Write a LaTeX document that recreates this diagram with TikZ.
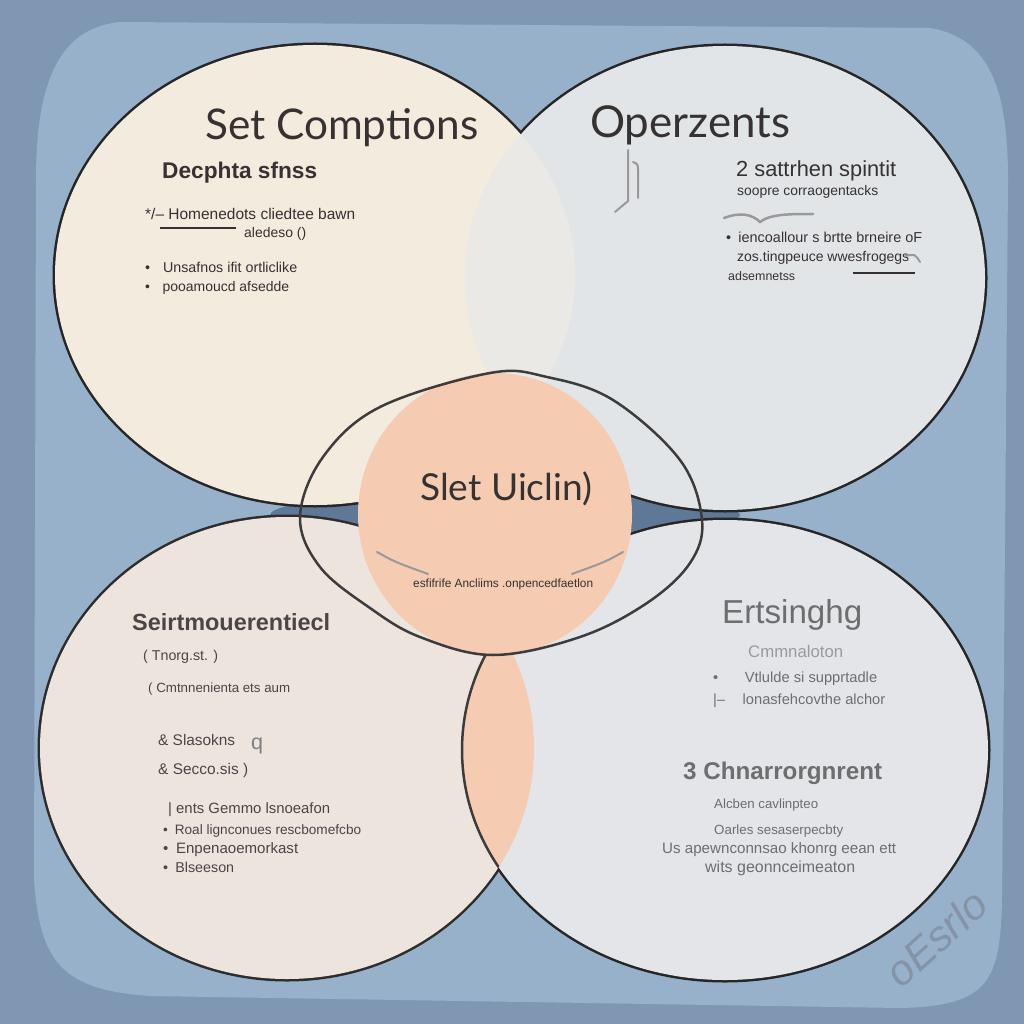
\documentclass[tikz,border=0pt]{standalone}
\usepackage{fontspec}
\setmainfont{Liberation Sans}
\newfontfamily\titlefont{Lato}
\usepackage{graphicx}
\definecolor{bgdark}{HTML}{7F97B3}
\definecolor{panel}{HTML}{97B1CB}
\definecolor{gapdark}{HTML}{5F7898}
\definecolor{tlfill}{HTML}{F4EBDF}
\definecolor{trfill}{HTML}{E2E5E7}
\definecolor{lensfill}{HTML}{EAE9E5}
\definecolor{blfill}{HTML}{EEE4DE}
\definecolor{brfill}{HTML}{E3E5E8}
\definecolor{peach}{HTML}{F5CBB1}
\definecolor{ink}{HTML}{363232}
\definecolor{inksoft}{HTML}{4A4646}
\definecolor{grayink}{HTML}{6E6E70}
\definecolor{lightink}{HTML}{9A9A9C}
\definecolor{outl}{HTML}{262626}
\definecolor{sig}{HTML}{8593A6}
\newcommand{\fw}[2]{\resizebox{#1pt}{!}{#2}}
\tikzset{
  txt/.style={anchor=base west, inner sep=0pt, text=ink},
  soft/.style={txt, text=inksoft},
  faded/.style={txt, text=grayink},
  thinline/.style={draw=ink, line width=1.6pt},
  grayline/.style={draw=gray!80, line width=2pt, line cap=round},
}
\begin{document}
\begin{tikzpicture}[x=1pt,y=-1pt]
\useasboundingbox (0,0) rectangle (1024,1024);
\fill[bgdark] (0,0) rectangle (1024,1024);
% panel
\fill[panel] (120,22) -- (930,28) .. controls (990,38) and (1008,90) .. (1008,180)
  -- (1002,900) .. controls (1000,980) and (990,1006) .. (900,1008)
  -- (150,996) .. controls (60,990) and (40,960) .. (34,880)
  -- (36,180) .. controls (36,80) and (60,28) .. (120,22) -- cycle;
% dark gap
\fill[gapdark] (505,515) ellipse [x radius=235, y radius=24];
% top circles
\draw[outl, line width=5pt] (315,275) ellipse [x radius=260, y radius=230];
\draw[outl, line width=5pt] (725,278) ellipse [x radius=260, y radius=232];
\fill[tlfill] (315,275) ellipse [x radius=260, y radius=230];
\fill[trfill] (725,278) ellipse [x radius=260, y radius=232];
\begin{scope}
  \clip (315,275) ellipse [x radius=260, y radius=230];
  \fill[lensfill] (725,278) ellipse [x radius=260, y radius=232];
\end{scope}
% bottom circles
\draw[draw=gray!35!black, line width=5pt] (287,748) ellipse [x radius=247, y radius=231];
\draw[outl, line width=5pt] (725,750) ellipse [x radius=263, y radius=230];
\fill[blfill] (287,748) ellipse [x radius=247, y radius=231];
\fill[brfill] (725,750) ellipse [x radius=263, y radius=230];
\begin{scope}
  \clip (287,748) ellipse [x radius=247, y radius=231];
  \fill[peach] (725,750) ellipse [x radius=263, y radius=230];
  \draw[outl!90, line width=2.5pt] (725,750) ellipse [x radius=263, y radius=230];
\end{scope}
% center
\fill[peach] (495,514) ellipse [x radius=137, y radius=141];
\draw[outl!90, line width=2.5pt] plot[smooth cycle, tension=0.6] coordinates {
  (490,373) (547,377) (613,400) (680,460) (702,520) (690,563) (647,603)
  (580,637) (493,655) (420,637) (370,608) (320,567) (300,517) (323,457) (380,407)};

% ---- top-left texts
\node[txt, text=ink] (tlT) at (205,140) {\fw{273}{\titlefont Set Comptions}};
\node[txt] (tlS) at (162,179) {\fw{155}{\bfseries Decphta sfnss}};
\node[txt] (tl1) at (145,219) {\fw{210}{*/-- Homenedots cliedtee bawn}};
\coordinate (tlla) at (160,228); \coordinate (tllb) at (236,228);
\draw[thinline] (tlla) -- (tllb);
\node[txt] (tl2) at (244,238) {\fw{62}{aledeso ()}};
\node[txt] (tlb1) at (145,272) {\fw{152}{\textbullet\hspace{0.9em}Unsafnos ifit ortliclike}};
\node[txt] (tlb2) at (145,291) {\fw{144}{\textbullet\hspace{0.9em}pooamoucd afsedde}};

% ---- top-right texts
\node[txt] (trT) at (590,138) {\fw{200}{\titlefont Operzents}};
\coordinate (br1) at (628,150); \coordinate (br2) at (628,201); \coordinate (br3) at (615,212);
\draw[grayline] (br1) -- (br2) -- (br3);
\coordinate (br4) at (633,162); \coordinate (br5) at (638,198);
\draw[grayline] (br4) .. controls (638,164) .. (638,172) -- (br5);
\node[txt] (tr1) at (736,177) {\fw{160}{2 sattrhen spintit}};
\node[txt] (tr2) at (737,196) {\fw{141}{soopre corraogentacks}};
\coordinate (sq1) at (724,218); \coordinate (sq2) at (813,214);
\draw[grayline, line width=2.5pt] (sq1) .. controls (740,212) and (752,214) .. (760,222) .. controls (770,214) and (790,214) .. (sq2);
\node[txt] (tr3) at (726,242) {\fw{196}{\textbullet\hspace{0.5em}iencoallour s brtte brneire oF}};
\node[txt] (tr4) at (737,261) {\fw{172}{zos.tingpeuce wwesfrogegs}};
\coordinate (sq3) at (905,256); \coordinate (sq4) at (920,262);
\draw[grayline] (sq3) .. controls (915,254) .. (sq4);
\node[txt] (tr5) at (728,280) {\fw{67}{adsemnetss}};
\coordinate (trla) at (853,273); \coordinate (trlb) at (915,273);
\draw[thinline] (trla) -- (trlb);

% ---- center texts
\node[txt] (cT) at (420,500) {\fw{172}{\titlefont Slet Uiclin)}};
\coordinate (ca1) at (377,552); \coordinate (ca2) at (428,574);
\coordinate (ca3) at (623,552); \coordinate (ca4) at (572,574);
\draw[grayline] (ca1) .. controls (395,562) .. (ca2);
\draw[grayline] (ca3) .. controls (605,562) .. (ca4);
\node[txt] (c1) at (413,587) {\fw{180}{esfifrife Ancliims .onpencedfaetlon}};

% ---- bottom-left texts
\node[soft] (blT) at (132,630) {\fw{198}{\bfseries Seirtmouerentiecl}};
\node[soft] (bl1) at (143,660) {\fw{75}{( Tnorg.st. )}};
\node[soft] (bl2) at (148,692) {\fw{142}{( Cmtnnenienta ets aum}};
\node[soft] (bl3) at (158,745) {\fw{77}{\& Slasokns}};
\node[txt, text=gray] (blq) at (251,749) {\fw{12}{q}};
\node[soft] (bl4) at (158,774) {\fw{90}{\& Secco.sis )}};
\node[soft] (bl5) at (168,813) {\fw{162}{| ents Gemmo lsnoeafon}};
\node[soft] (bl6) at (163,834) {\fw{198}{\textbullet\hspace{0.5em}Roal lignconues rescbomefcbo}};
\node[soft] (bl7) at (163,853) {\fw{135}{\textbullet\hspace{0.5em}Enpenaoemorkast}};
\node[soft] (bl8) at (163,872) {\fw{71}{\textbullet\hspace{0.5em}Blseeson}};

% ---- bottom-right texts
\node[faded] (brT) at (722,623) {\fw{140}{Ertsinghg}};
\node[txt, text=lightink] (br1t) at (748,657) {\fw{95}{Cmmnaloton}};
\node[faded] (br2t) at (713,682) {\fw{164}{\textbullet\hspace{1.8em}Vtlulde si supprtadle}};
\node[faded] (br3t) at (713,704) {\fw{172}{|--\hspace{1.2em}lonasfehcovthe alchor}};
\node[faded] (br4t) at (683,779) {\fw{199}{\bfseries 3 Chnarrorgnrent}};
\node[faded] (br5t) at (714,808) {\fw{104}{Alcben cavlinpteo}};
\node[faded] (br6t) at (714,834) {\fw{129}{Oarles sesaserpecbty}};
\node[faded] (br7t) at (662,853) {\fw{234}{Us apewnconnsao khonrg eean ett}};
\node[faded] (br8t) at (705,872) {\fw{150}{wits geonnceimeaton}};

% signature
\node[inner sep=0pt, text=sig, rotate=42] (sig) at (936,938) {\fw{120}{\itshape oEsrlo}};
\end{tikzpicture}
\end{document}
